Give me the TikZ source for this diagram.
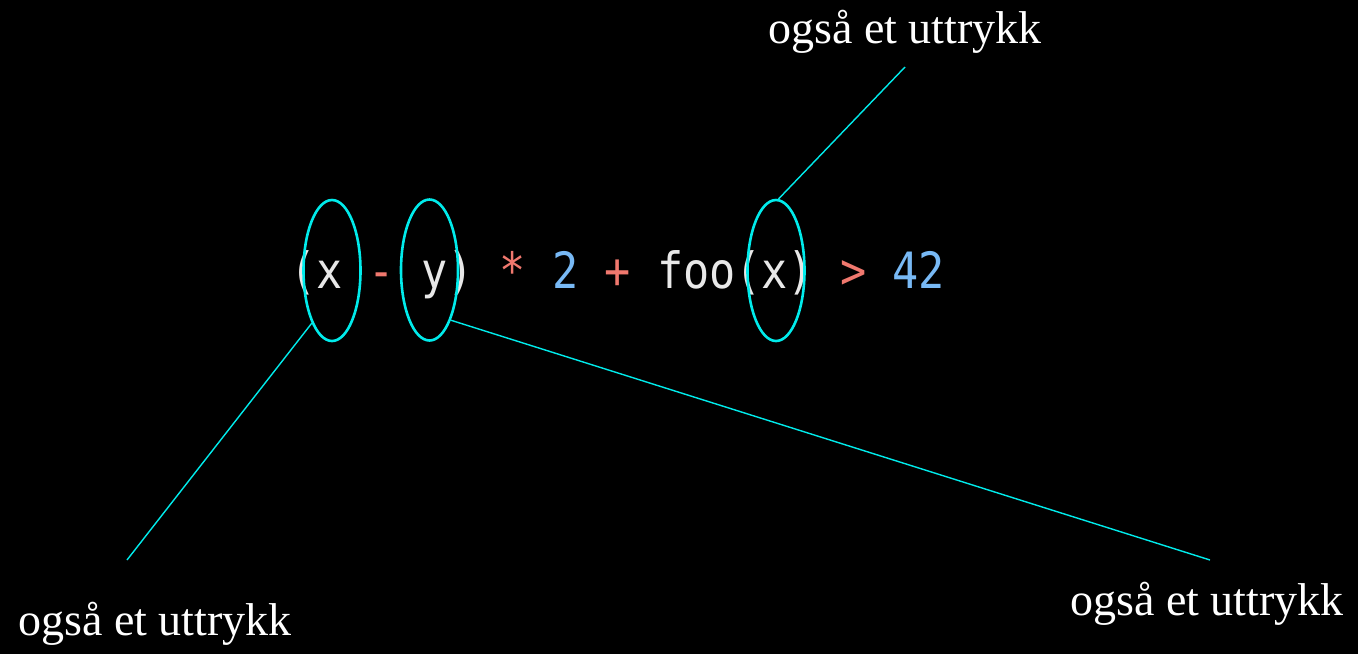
\documentclass[tikz,border=0pt]{standalone}
\usepackage{fontspec}
\setmainfont{Liberation Serif}
\newfontfamily\codefont[FakeStretch=0.87]{DejaVu Sans Mono}
\usetikzlibrary{shapes.geometric}
\definecolor{codewhite}{RGB}{232,232,232}
\definecolor{opred}{RGB}{240,120,110}
\definecolor{numblue}{RGB}{120,185,245}
\definecolor{marker}{RGB}{0,235,235}
\tikzset{
  code/.style={inner sep=0pt, anchor=base west, font=\codefont\fontsize{25}{30}\selectfont},
  ring/.style={draw=marker, line width=1.3pt, ellipse, minimum width=28.5pt, minimum height=70.5pt, inner sep=0pt},
  pointer/.style={draw=marker, line width=0.7pt},
  note/.style={text=white, anchor=base, inner sep=0pt, font=\fontsize{23}{27}\selectfont}
}
\begin{document}
\begin{tikzpicture}[x=0.5pt,y=-0.5pt]
        \fill[black] (0,0) rectangle (1358,654);
        
        % uttrykket
        \node[code] (expr) at (290,288) {\textcolor{codewhite}{(x} \textcolor{opred}{-} \textcolor{codewhite}{y)} \textcolor{opred}{*} \textcolor{numblue}{2} \textcolor{opred}{+} \textcolor{codewhite}{foo(x)} \textcolor{opred}{>} \textcolor{numblue}{42}};
        
        % deluttrykk
        \node[ring] (xleft) at (332,270.5) {};
        \node[ring] (yleft) at (429.5,270) {};
        \node[ring] (xfoo) at (776,270.5) {};
        
        \node[note] (ntop) at (905,43) {også et uttrykk};
        \node[note] (nleft) at (155,635) {også et uttrykk};
        \node[note] (nright) at (1207,615) {også et uttrykk};
        
        \coordinate (ptop) at (905,67);
        \coordinate (pleft) at (127,560);
        \coordinate (pright) at (1210,560);
        
        \draw[pointer] (xfoo.88) -- (ptop);
        \draw[pointer] (xleft.249) -- (pleft);
        \draw[pointer] (yleft.293) -- (pright);
    \end{tikzpicture}
\end{document}
